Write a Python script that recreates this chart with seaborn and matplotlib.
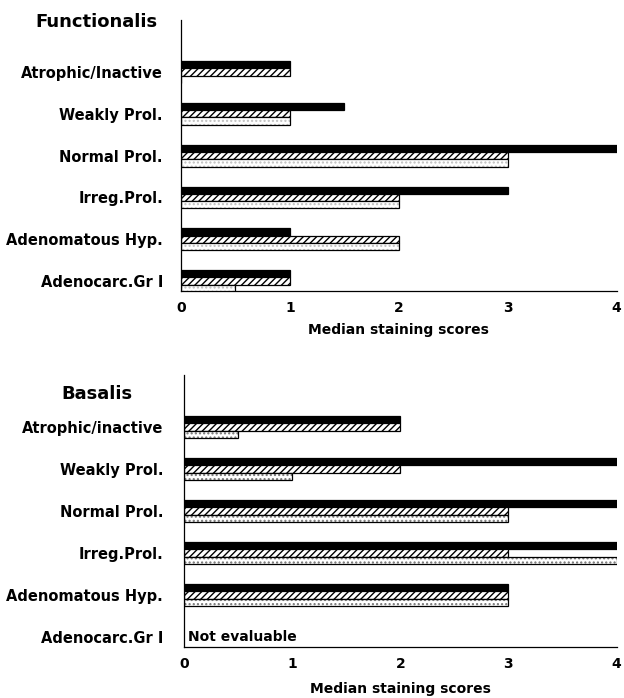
import numpy as np
import pandas as pd
import matplotlib
matplotlib.use("Agg")
import matplotlib.pyplot as plt
import seaborn as sns

# ---- data ----
func_categories = ["Atrophic/Inactive", "Weakly Prol.", "Normal Prol.",
                   "Irreg.Prol.", "Adenomatous Hyp.", "Adenocarc.Gr I"]
func_solid = [1, 1.5, 4, 3, 1, 1]
func_hatched = [1, 1, 3, 2, 2, 1]
func_open = [0, 1, 3, 2, 2, 0.5]

bas_categories = ["Atrophic/inactive", "Weakly Prol.", "Normal Prol.",
                  "Irreg.Prol.", "Adenomatous Hyp.", "Adenocarc.Gr I"]
bas_solid = [2, 4, 4, 4, 3, np.nan]
bas_hatched = [2, 2, 3, 3, 3, np.nan]
bas_dotted = [0.5, 1, 3, 4, 3, np.nan]

series_names = ["S1", "S2", "S3"]
x_ticks = [0, 1, 2, 3, 4]
x_label = "Median staining scores"

sns.set_style("white")
plt.rcParams["font.family"] = ["DejaVu Sans"]
plt.rcParams["font.weight"] = "bold"
plt.rcParams["hatch.linewidth"] = 1.0
for k in ["text.color", "axes.labelcolor", "xtick.color", "ytick.color"]:
    plt.rcParams[k] = "black"


def make_df(cats, a, b, c):
    rows = []
    for name, vals in zip(series_names, [a, b, c]):
        for cat, v in zip(cats, vals):
            rows.append({"category": cat, "score": v, "series": name})
    return pd.DataFrame(rows)


fig = plt.figure(figsize=(6.24, 6.98), dpi=100)
ax1 = fig.add_axes([0.290, 0.583, 0.698, 0.388])
ax2 = fig.add_axes([0.295, 0.073, 0.693, 0.390])


def draw(ax, cats, a, b, c, dot_color, ypad, xlabpad):
    df = make_df(cats, a, b, c)
    sns.barplot(data=df, y="category", x="score", hue="series", order=cats,
                hue_order=series_names, orient="h", width=0.52, dodge=True,
                errorbar=None, legend=False, ax=ax, saturation=1)
    styles = [
        dict(fc="black", hatch=None, hc=None),
        dict(fc="white", hatch="/////", hc=(0, 0, 0, 1)),
        dict(fc="white", hatch="....", hc=dot_color),
    ]
    for cont, st in zip(ax.containers, styles):
        for p in cont.patches:
            p.set_facecolor(st["fc"])
            p.set_edgecolor("black")
            p.set_linewidth(0.9)
            if st["hatch"]:
                p.set_hatch(st["hatch"])
                p._hatch_color = matplotlib.colors.to_rgba(st["hc"])
    ax.set_xlim(0, 4)
    ax.set_ylim(5.24, -1.24)
    ax.set_xticks(x_ticks)
    ax.set_xticklabels([str(t) for t in x_ticks], fontsize=10, fontweight="bold")
    ax.set_yticks(range(len(cats)))
    ax.set_yticklabels(cats, fontsize=10.5, fontweight="bold")
    ax.tick_params(axis="both", length=0)
    ax.tick_params(axis="y", pad=ypad)
    ax.tick_params(axis="x", pad=7)
    ax.set_ylabel("")
    ax.set_xlabel(x_label, fontsize=10, fontweight="bold", labelpad=xlabpad)
    for s in ["top", "right"]:
        ax.spines[s].set_visible(False)
    for s in ["left", "bottom"]:
        ax.spines[s].set_color("black")
        ax.spines[s].set_linewidth(0.9)
    return ax


draw(ax1, func_categories, func_solid, func_hatched, func_open,
     (0.75, 0.75, 0.75, 1), 13, 6)
draw(ax2, bas_categories, bas_solid, bas_hatched, bas_dotted,
     (0.45, 0.45, 0.45, 1), 15, 8)

fig.text(0.155, 0.969, "Functionalis", fontsize=13, fontweight="bold",
         va="center", ha="center")
fig.text(0.156, 0.435, "Basalis", fontsize=13, fontweight="bold",
         va="center", ha="center")
ax2.text(0.04, 5.17, "Not evaluable", fontsize=10, fontweight="bold",
         ha="left", va="bottom")

fig.savefig("out.png", dpi=100)
